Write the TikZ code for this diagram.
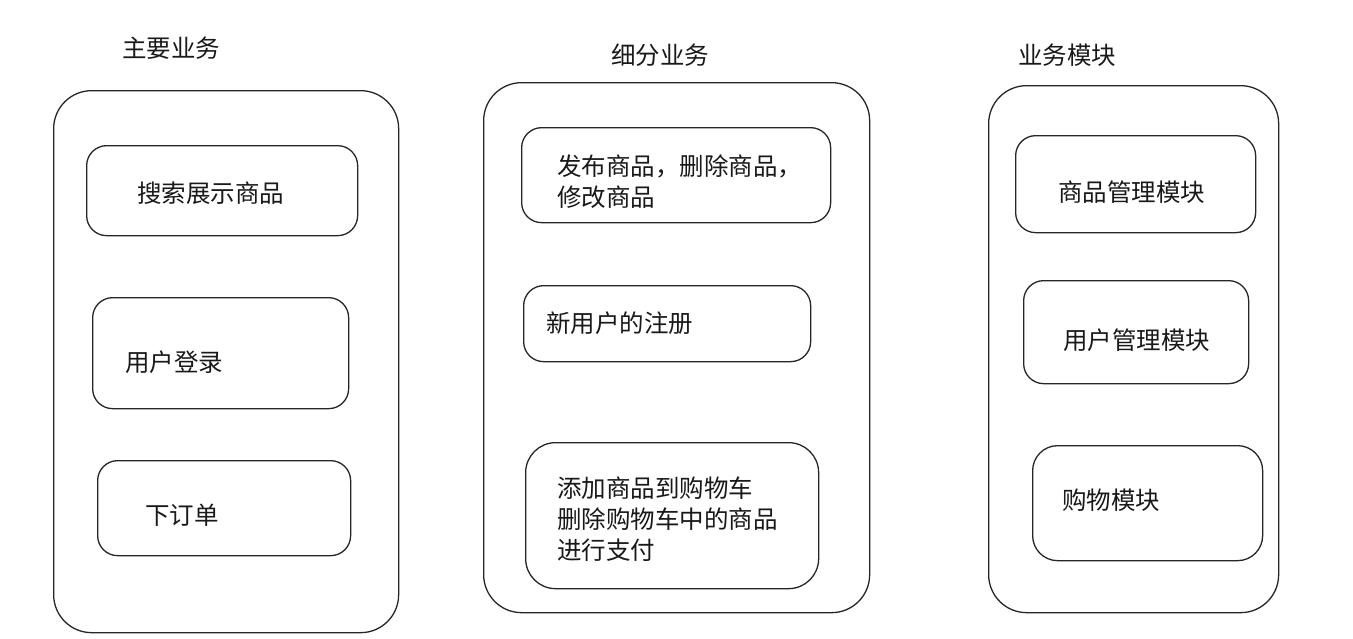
\documentclass[tikz,border=0pt]{standalone}
\usepackage{fontspec}
\setmainfont{Noto Sans CJK SC}
\begin{document}
\begin{tikzpicture}[x=1pt,y=-1pt,
  outerbox/.style={draw=black!85,line width=1.3pt,rounded corners=38pt,inner sep=0pt,anchor=north west},
  innerbox/.style={draw=black!85,line width=1.3pt,rounded corners=20pt,inner sep=0pt,anchor=north west},
  lbl/.style={font=\fontsize{24.5}{31}\selectfont,anchor=west,inner sep=0pt,align=left,text=black!90},
  ttl/.style={font=\fontsize{24.5}{31}\selectfont,anchor=west,inner sep=0pt,text=black!90}]
\useasboundingbox[fill=white] (0,0) rectangle (1353,638);
% column 1
\node[ttl] (t1) at (122,48) {主要业务};
\node[outerbox,minimum width=345pt,minimum height=542pt] (c1) at (53,90) {};
\node[innerbox,minimum width=271pt,minimum height=90pt] (a1) at (86,145) {};
\node[lbl] (la1) at (137,193) {搜索展示商品};
\node[innerbox,minimum width=256pt,minimum height=111pt] (a2) at (92,297) {};
\node[lbl] (la2) at (125,362) {用户登录};
\node[innerbox,minimum width=253pt,minimum height=95pt] (a3) at (97,460) {};
\node[lbl] (la3) at (145,515) {下订单};
% column 2
\node[ttl] (t2) at (611,55) {细分业务};
\node[outerbox,minimum width=386pt,minimum height=530pt] (c2) at (483,82) {};
\node[innerbox,minimum width=309pt,minimum height=95pt] (b1) at (521,127) {};
\node[lbl] (lb1) at (557,182) {发布商品，删除商品，\\修改商品};
\node[innerbox,minimum width=287pt,minimum height=76pt] (b2) at (523,285) {};
\node[lbl] (lb2) at (546,323) {新用户的注册};
\node[innerbox,minimum width=293pt,minimum height=146pt,rounded corners=30pt] (b3) at (525,442) {};
\node[lbl] (lb3) at (557,519) {添加商品到购物车\\删除购物车中的商品\\进行支付};
% column 3
\node[ttl] (t3) at (1018,55) {业务模块};
\node[outerbox,minimum width=290pt,minimum height=527pt] (c3) at (988,85) {};
\node[innerbox,minimum width=240pt,minimum height=97pt] (d1) at (1015,135) {};
\node[lbl] (ld1) at (1058,192) {商品管理模块};
\node[innerbox,minimum width=225pt,minimum height=103pt] (d2) at (1023,280) {};
\node[lbl] (ld2) at (1063,340) {用户管理模块};
\node[innerbox,minimum width=230pt,minimum height=115pt,rounded corners=25pt] (d3) at (1032,445) {};
\node[lbl] (ld3) at (1062,500) {购物模块};
\end{tikzpicture}
\end{document}
